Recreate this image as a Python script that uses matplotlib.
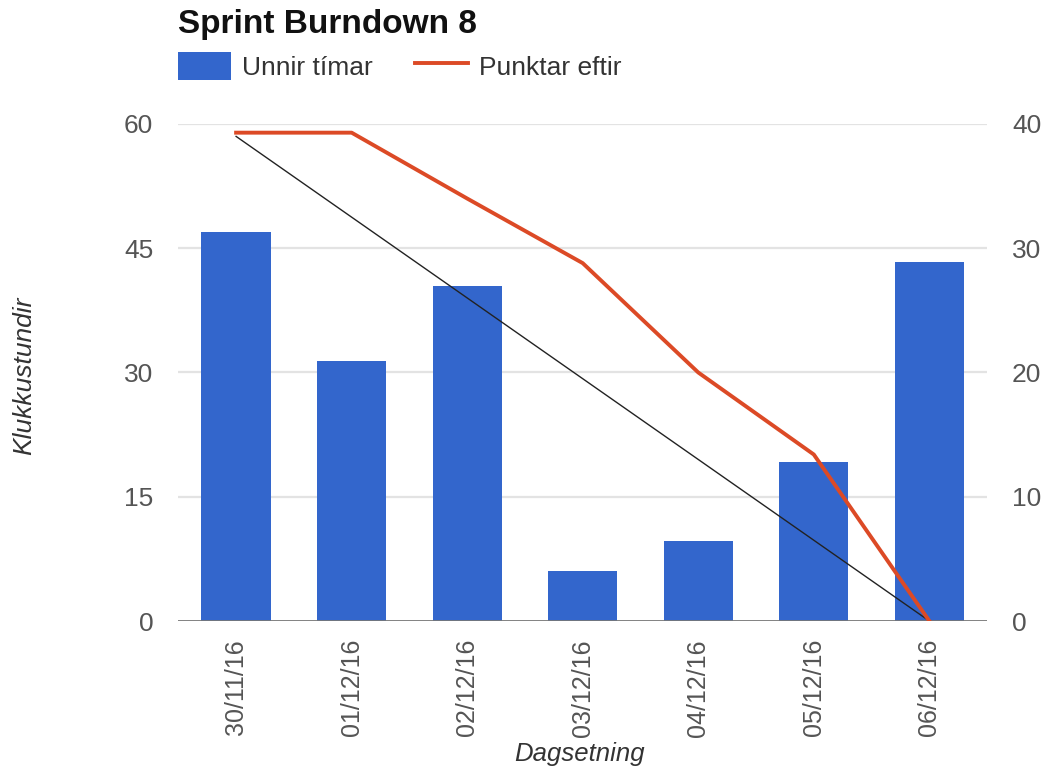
import matplotlib
matplotlib.use("Agg")
from matplotlib import pyplot as plt
from matplotlib.patches import Patch
from matplotlib.lines import Line2D

plt.rcParams['font.family'] = ['Liberation Sans', 'DejaVu Sans']

dates = ['30/11/16', '01/12/16', '02/12/16', '03/12/16', '04/12/16', '05/12/16', '06/12/16']
hours_worked = [47, 31.4, 40.4, 6, 9.6, 19.2, 43.3]      # Unnir tímar (left axis)
points_left = [39.3, 39.3, 34, 28.8, 20, 13.4, 0]        # Punktar eftir (right axis)
ideal_x = [0, 6]
ideal_points = [39, 0]

blue = '#3366cc'
red = '#dc4a26'
tick_col = '#555555'

fig = plt.figure(figsize=(10.49, 7.7), dpi=100)
ax = fig.add_axes([0.170, 0.1935, 0.771, 0.6455])
ax2 = ax.twinx()

xs = list(range(len(dates)))
ax.bar(xs, hours_worked, width=0.6, color=blue, zorder=2)

ax2.plot(ideal_x, ideal_points, color='#222222', lw=1.0, zorder=3)
ax2.plot(xs, points_left, color=red, lw=2.8, zorder=4)

ax.set_xlim(-0.5, 6.5)
ax.set_ylim(0, 60)
ax2.set_ylim(0, 40)
ax.set_yticks([0, 15, 30, 45, 60])
ax2.set_yticks([0, 10, 20, 30, 40])

# light horizontal grid, darker zero line
for v in [15, 30, 45, 60]:
    ax.axhline(v, color='#e3e3e3', lw=1.6, zorder=0)
ax.axhline(0, color='#777777', lw=2, zorder=5)

for a in (ax, ax2):
    for s in a.spines.values():
        s.set_visible(False)

ax.set_xticks(xs)
ax.set_xticklabels(dates, rotation=90)
ax.tick_params(axis='x', length=0, pad=13, labelsize=18, colors=tick_col)
ax.tick_params(axis='y', length=0, pad=18, labelsize=19, colors=tick_col)
ax2.tick_params(axis='y', length=0, pad=18, labelsize=19, colors=tick_col)

fig.text(580 / 1049, 1 - 754 / 770, 'Dagsetning', ha='center', va='center',
         style='italic', fontsize=18.5, color='#333333')
fig.text(24 / 1049, 1 - 376 / 770, 'Klukkustundir', ha='center', va='center',
         rotation=90, style='italic', fontsize=19, color='#333333')

fig.text(178 / 1049, 1 - 25 / 770, 'Sprint Burndown 8', ha='left', va='center',
         fontsize=24, fontweight='bold', color='#111111')

handles = [Patch(facecolor=blue, edgecolor='none'),
           Line2D([0], [0], color=red, lw=2.8)]
fig.legend(handles, ['Unnir tímar', 'Punktar eftir'], loc='center left',
           bbox_to_anchor=(178 / 1049, 1 - 66 / 770), ncol=2, frameon=False,
           borderpad=0, borderaxespad=0,
           fontsize=19, handlelength=2.0, handleheight=1.3, handletextpad=0.42,
           columnspacing=1.6, labelcolor='#333333')

fig.savefig('out.png', dpi=100)
